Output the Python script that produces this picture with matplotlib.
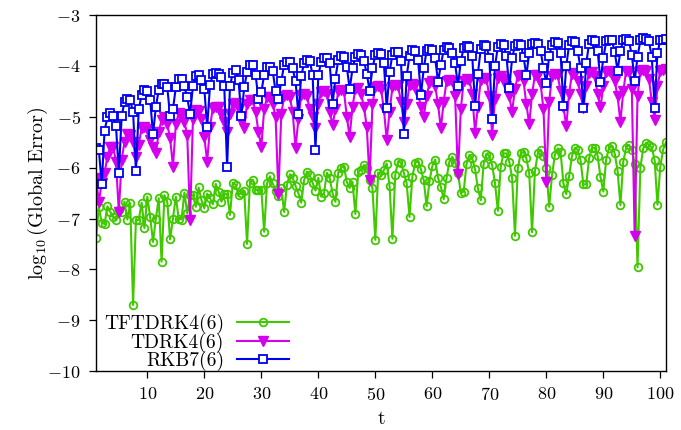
import numpy as np
import matplotlib
matplotlib.use('Agg')
import matplotlib.pyplot as plt

# computer modern look, like the latex/gnuplot original
plt.rcParams['font.family'] = 'serif'
plt.rcParams['font.serif'] = ['cmr10']
plt.rcParams['mathtext.fontset'] = 'cm'
plt.rcParams['axes.formatter.use_mathtext'] = True

# time grid, step 0.5
t = np.arange(1, 101.5, 0.5)

# log10 of global error
tftdrk4 = [
    -7.39, -6.78, -7.08, -7.11, -6.76, -6.87, -6.97, -7.02, -6.83, -6.87,
    -6.67, -7.02, -6.70, -8.70, -7.03, -7.03, -6.69, -7.19, -6.57, -6.97,
    -7.46, -7.00, -6.60, -7.85, -6.54, -6.67, -7.41, -7.00, -6.57, -7.00,
    -7.02, -6.49, -6.90, -6.54, -6.54, -6.77, -6.39, -6.64, -6.80, -6.51,
    -6.60, -6.72, -6.32, -6.47, -6.67, -6.52, -6.52, -6.93, -6.30, -6.34,
    -6.54, -6.49, -6.46, -7.50, -6.30, -6.24, -6.44, -6.44, -6.43, -7.26,
    -6.31, -6.17, -6.31, -6.45, -6.55, -6.40, -6.87, -6.34, -6.13, -6.20,
    -6.36, -6.50, -6.69, -6.25, -6.08, -6.15, -6.30, -6.45, -6.20, -6.57,
    -6.50, -6.10, -6.21, -6.50, -6.67, -6.10, -6.00, -5.98, -6.28, -6.40,
    -6.28, -6.91, -6.08, -6.05, -5.95, -6.00, -6.24, -6.41, -7.42, -6.10,
    -6.15, -6.05, -5.92, -6.36, -7.40, -6.14, -5.88, -5.90, -6.10, -6.31,
    -6.97, -6.18, -5.90, -5.88, -6.03, -6.25, -6.76, -6.27, -5.97, -5.84,
    -6.20, -6.38, -6.62, -6.20, -5.88, -5.79, -5.90, -6.10, -6.50, -6.47,
    -5.93, -5.75, -5.82, -6.03, -6.41, -6.64, -5.93, -5.73, -5.77, -5.95,
    -6.31, -6.85, -5.98, -5.72, -5.72, -5.88, -6.20, -7.34, -6.01, -5.72,
    -5.69, -5.82, -6.11, -7.27, -6.07, -5.72, -5.65, -5.77, -6.01, -6.77,
    -6.15, -5.75, -5.62, -5.69, -6.31, -6.52, -6.17, -5.77, -5.61, -5.65,
    -5.85, -6.33, -6.33, -5.82, -5.61, -5.61, -5.77, -6.18, -6.47, -5.84,
    -5.61, -5.58, -5.72, -6.06, -6.74, -5.88, -5.61, -5.55, -5.65, -5.92,
    -7.96, -6.00, -5.62, -5.51, -5.55, -5.60, -5.85, -6.73, -5.98, -5.64, -5.50,
]

tdrk4 = [
    -6.21, -6.67, -6.30, -6.10, -5.79, -5.59, -5.59, -5.88, -6.87, -5.85,
    -5.49, -5.33, -5.36, -5.50, -5.80, -5.55, -5.22, -5.20, -5.25, -5.45,
    -5.60, -5.72, -5.30, -5.06, -5.01, -5.15, -5.42, -5.98, -5.15, -4.93,
    -4.95, -5.10, -5.35, -7.03, -5.05, -4.87, -4.88, -5.05, -5.40, -5.88,
    -5.20, -4.82, -4.80, -4.80, -4.95, -5.10, -5.29, -4.95, -4.75, -4.72,
    -4.85, -5.08, -5.23, -4.74, -4.67, -4.68, -4.90, -5.30, -5.59, -4.85,
    -4.62, -4.62, -4.75, -5.00, -6.51, -4.95, -4.60, -4.58, -4.62, -4.90,
    -5.62, -5.05, -4.58, -4.55, -4.60, -4.85, -5.00, -5.23, -4.75, -4.52,
    -4.50, -4.55, -4.90, -5.16, -4.85, -4.50, -4.47, -4.50, -5.00, -5.39,
    -4.80, -4.45, -4.44, -4.55, -4.80, -5.20, -6.24, -4.75, -4.42, -4.40,
    -4.45, -4.85, -5.46, -4.90, -4.42, -4.38, -4.40, -4.70, -5.10, -4.75,
    -4.38, -4.35, -4.37, -4.55, -4.80, -5.00, -4.60, -4.33, -4.30, -4.40,
    -4.75, -5.23, -4.70, -4.30, -4.28, -4.30, -4.60, -6.13, -4.85, -4.30,
    -4.25, -4.27, -4.55, -5.31, -4.80, -4.28, -4.24, -4.25, -4.60, -5.35,
    -4.65, -4.23, -4.20, -4.25, -4.40, -4.60, -4.90, -4.45, -4.20, -4.18,
    -4.30, -4.75, -5.15, -4.55, -4.18, -4.18, -4.35, -4.85, -6.28, -4.70,
    -4.20, -4.15, -4.18, -4.50, -4.80, -5.18, -4.55, -4.15, -4.14, -4.30,
    -4.55, -4.83, -4.40, -4.13, -4.12, -4.20, -4.55, -4.81, -4.40, -4.12,
    -4.10, -4.12, -4.30, -4.60, -5.10, -4.50, -4.10, -4.12, -4.45, -7.35,
    -4.60, -4.10, -4.08, -4.10, -4.25, -4.70, -5.06, -4.40, -4.10, -4.08, -4.07,
]

rkb7 = [
    -5.62, -5.65, -6.33, -5.27, -5.01, -4.93, -4.99, -5.18, -6.10, -4.99,
    -4.70, -4.66, -4.68, -4.90, -6.06, -4.85, -4.57, -4.47, -4.50, -4.67,
    -5.34, -4.81, -4.47, -4.36, -4.36, -4.42, -4.99, -4.85, -4.42, -4.26,
    -4.26, -4.40, -4.62, -4.95, -4.40, -4.20, -4.17, -4.28, -4.45, -5.21,
    -4.38, -4.16, -4.13, -4.15, -4.22, -4.40, -5.99, -4.40, -4.13, -4.09,
    -4.28, -4.99, -4.42, -4.12, -3.98, -3.98, -4.18, -4.66, -4.52, -4.17,
    -4.02, -4.02, -4.10, -4.50, -4.66, -4.30, -3.98, -3.92, -3.93, -4.05,
    -4.30, -4.95, -4.20, -3.95, -3.88, -3.90, -4.18, -5.65, -4.18, -3.92,
    -3.85, -3.84, -3.95, -4.75, -4.25, -3.88, -3.80, -3.82, -4.02, -4.46,
    -4.05, -3.82, -3.77, -3.78, -3.90, -4.15, -4.49, -4.05, -3.78, -3.74,
    -3.76, -3.95, -4.83, -4.12, -3.78, -3.72, -3.72, -3.90, -5.33, -4.20,
    -3.80, -3.69, -3.70, -3.88, -4.57, -4.05, -3.70, -3.66, -3.68, -3.85,
    -4.31, -3.98, -3.68, -3.63, -3.64, -3.75, -3.95, -4.40, -3.90, -3.65,
    -3.60, -3.62, -3.80, -4.79, -4.15, -3.66, -3.59, -3.60, -3.85, -5.05,
    -4.00, -3.62, -3.57, -3.59, -3.80, -4.44, -3.85, -3.60, -3.56, -3.58,
    -3.82, -4.18, -3.75, -3.57, -3.55, -3.56, -3.70, -4.05, -4.34, -3.80,
    -3.58, -3.53, -3.55, -3.75, -4.78, -4.00, -3.58, -3.52, -3.53, -3.70,
    -4.05, -4.83, -3.95, -3.56, -3.50, -3.51, -3.70, -4.31, -3.85, -3.52,
    -3.49, -3.50, -3.72, -4.10, -3.70, -3.50, -3.48, -3.52, -3.78, -4.30,
    -3.82, -3.50, -3.46, -3.47, -3.52, -3.82, -4.82, -3.74, -3.50, -3.49, -3.48,
]

fig = plt.figure(figsize=(6.81, 4.30), dpi=100)
ax = fig.add_axes([0.141, 0.137, 0.837, 0.828])

ax.plot(t, tftdrk4, color='#40c800', lw=1.5, marker='o', ms=5.5, mfc='none', mew=1.3, label='TFTDRK4(6)')
ax.plot(t, tdrk4, color='#d400ee', lw=1.5, marker='v', ms=6.5, mew=1.0, label='TDRK4(6)')
ax.plot(t, rkb7, color='#0000f0', lw=1.5, marker='s', ms=5.5, mfc='white', mew=1.3, label='RKB7(6)')

ax.set_xlim(1, 101)
ax.set_ylim(-10, -3)
ax.set_xticks(range(10, 101, 10))
ax.set_yticks(range(-10, -2))
ax.tick_params(direction='out', length=5, width=0.9, labelsize=13, pad=6,
               top=False, right=False)
for s in ax.spines.values():
    s.set_linewidth(1.0)

ax.set_xlabel('t', fontsize=14, labelpad=5)
ax.set_ylabel(r'$\log_{10}$(Global Error)', fontsize=14.5)
ax.yaxis.set_label_coords(-0.081, 0.5)

ax.legend(loc='lower left', bbox_to_anchor=(0.014, 0.0), frameon=False,
          markerfirst=False, fontsize=14, handlelength=2.67,
          labelspacing=-0.08, borderpad=0, borderaxespad=0, handletextpad=0.67)

fig.savefig('out.png', dpi=100)
